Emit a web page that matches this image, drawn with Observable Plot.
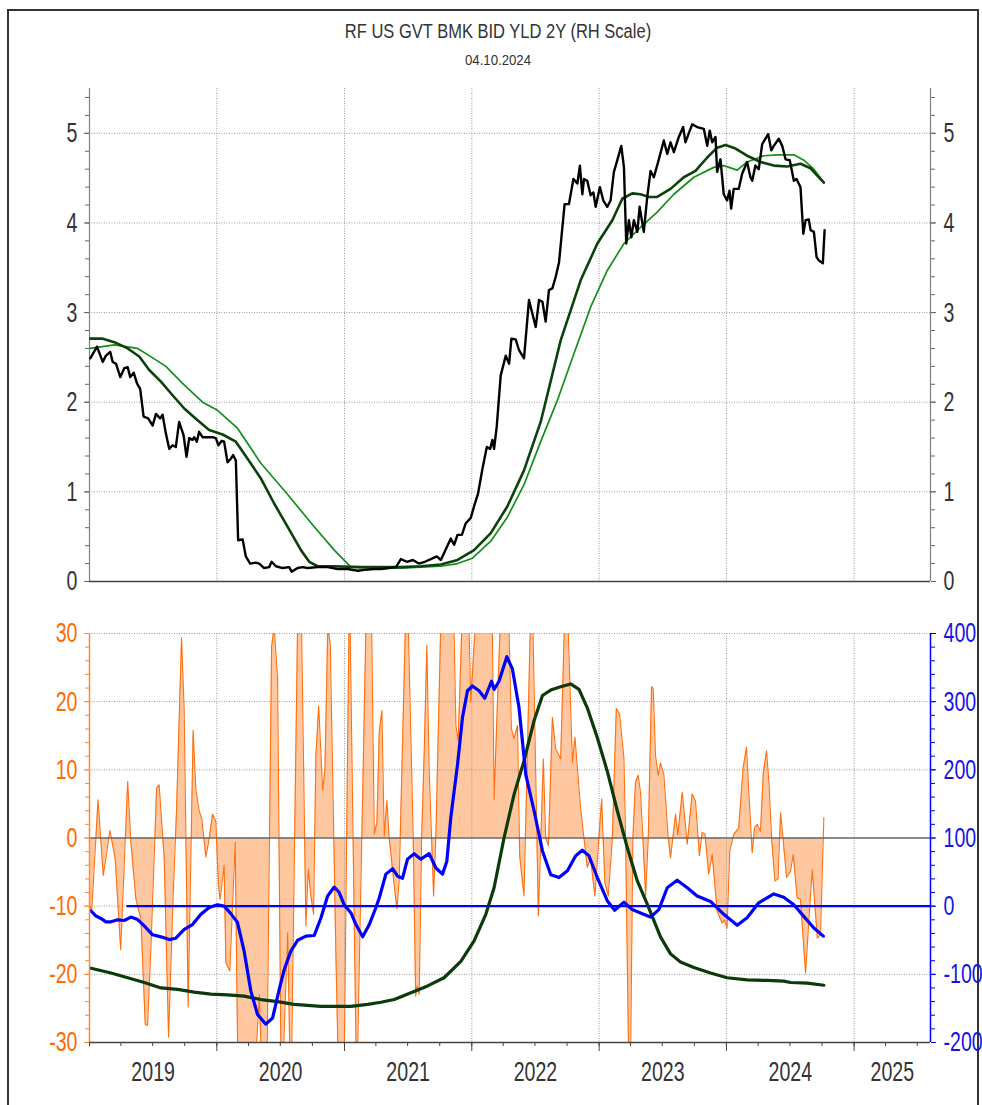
<!DOCTYPE html>
<html><head><meta charset="utf-8">
<script src="https://cdn.jsdelivr.net/npm/d3@7"></script>
<script src="https://cdn.jsdelivr.net/npm/@observablehq/plot@0.6"></script>
<style>
body{margin:0;background:#fff;width:982px;height:1105px;overflow:hidden;position:relative;font-family:"Liberation Sans",Arial,sans-serif;}
#border{position:absolute;left:7px;top:9px;width:972px;height:1110px;border-top:2px solid #333;border-left:2px solid #333;border-right:2px solid #333;box-sizing:border-box}
#title{position:absolute;left:498px;top:20px;transform:translateX(-50%) scaleX(0.825);font-size:20px;color:#333;white-space:nowrap}
#date{position:absolute;left:498px;top:51px;transform:translateX(-50%) scaleX(0.88);font-size:15px;color:#333;white-space:nowrap}
#top{position:absolute;left:0;top:80px}
#bot{position:absolute;left:0;top:620px}
svg{overflow:visible}
</style></head><body>
<div id="border"></div>
<div id="title"></div>
<div id="date"></div>
<div id="top"></div>
<div id="bot"></div>
<script>
const titleText = "RF US GVT BMK BID YLD 2Y (RH Scale)";
const dateText = "04.10.2024";
const yearLabels = ["2019","2020","2021","2022","2023","2024","2025"];
const topTicks = [0,1,2,3,4,5];
const leftTicks = [-30,-20,-10,0,10,20,30];
const rightTicks = [-200,-100,0,100,200,300,400];
const blueZero = 0;
const blueZeroStart = 2019.294;

// 2Y yield (decimal year, %)
const yield2y = [[2019.006,2.49],[2019.059,2.62],[2019.104,2.45],[2019.129,2.52],[2019.163,2.56],[2019.182,2.45],[2019.208,2.43],[2019.242,2.28],[2019.273,2.38],[2019.300,2.39],[2019.320,2.28],[2019.347,2.33],[2019.373,2.21],[2019.398,2.15],[2019.425,1.84],[2019.461,1.82],[2019.496,1.74],[2019.522,1.87],[2019.555,1.82],[2019.574,1.86],[2019.600,1.65],[2019.626,1.48],[2019.653,1.52],[2019.678,1.50],[2019.704,1.78],[2019.739,1.63],[2019.762,1.39],[2019.783,1.60],[2019.809,1.58],[2019.822,1.61],[2019.843,1.56],[2019.861,1.67],[2019.888,1.61],[2019.927,1.61],[2019.966,1.61],[2019.992,1.60],[2020.013,1.52],[2020.039,1.57],[2020.057,1.56],[2020.084,1.33],[2020.110,1.37],[2020.128,1.41],[2020.149,1.35],[2020.167,0.46],[2020.202,0.47],[2020.227,0.28],[2020.261,0.20],[2020.306,0.21],[2020.332,0.20],[2020.371,0.15],[2020.410,0.16],[2020.429,0.22],[2020.463,0.17],[2020.515,0.15],[2020.567,0.16],[2020.586,0.11],[2020.633,0.15],[2020.672,0.16],[2020.711,0.15],[2020.790,0.16],[2020.868,0.16],[2020.947,0.14],[2021.025,0.14],[2021.104,0.12],[2021.155,0.13],[2021.234,0.14],[2021.286,0.14],[2021.349,0.15],[2021.404,0.16],[2021.443,0.25],[2021.490,0.22],[2021.537,0.24],[2021.584,0.20],[2021.631,0.22],[2021.678,0.25],[2021.725,0.28],[2021.757,0.24],[2021.835,0.48],[2021.861,0.41],[2021.888,0.52],[2021.922,0.52],[2021.953,0.65],[2021.992,0.71],[2022.018,0.84],[2022.049,0.98],[2022.084,1.26],[2022.118,1.50],[2022.144,1.48],[2022.162,1.58],[2022.175,1.48],[2022.196,1.73],[2022.227,2.30],[2022.267,2.52],[2022.293,2.43],[2022.311,2.71],[2022.345,2.70],[2022.371,2.58],[2022.410,2.49],[2022.449,3.14],[2022.502,2.84],[2022.528,3.14],[2022.555,3.12],[2022.580,2.90],[2022.606,3.25],[2022.633,3.27],[2022.659,3.40],[2022.685,3.56],[2022.729,4.21],[2022.763,4.21],[2022.798,4.49],[2022.829,4.44],[2022.849,4.64],[2022.868,4.32],[2022.881,4.49],[2022.907,4.47],[2022.933,4.31],[2022.955,4.34],[2022.973,4.18],[2023.006,4.40],[2023.033,4.25],[2023.064,4.18],[2023.090,4.25],[2023.116,4.57],[2023.143,4.70],[2023.174,4.86],[2023.195,4.62],[2023.213,3.77],[2023.234,4.03],[2023.253,3.84],[2023.273,4.03],[2023.300,3.90],[2023.318,4.18],[2023.351,3.90],[2023.378,4.29],[2023.404,4.58],[2023.430,4.51],[2023.469,4.71],[2023.508,4.92],[2023.535,4.77],[2023.561,4.90],[2023.587,4.79],[2023.626,4.96],[2023.660,5.07],[2023.678,4.90],[2023.704,5.00],[2023.731,5.10],[2023.770,5.07],[2023.822,5.05],[2023.849,4.86],[2023.869,5.03],[2023.888,4.90],[2023.914,4.96],[2023.927,4.57],[2023.953,4.71],[2023.979,4.32],[2024.005,4.25],[2024.024,4.36],[2024.037,4.16],[2024.057,4.38],[2024.096,4.38],[2024.123,4.55],[2024.162,4.68],[2024.188,4.51],[2024.202,4.47],[2024.227,4.64],[2024.253,4.60],[2024.280,4.88],[2024.327,4.99],[2024.351,4.81],[2024.371,4.86],[2024.410,4.94],[2024.437,4.86],[2024.463,4.71],[2024.496,4.70],[2024.528,4.47],[2024.549,4.49],[2024.580,4.40],[2024.602,3.88],[2024.620,4.03],[2024.645,4.04],[2024.659,3.92],[2024.685,3.90],[2024.706,3.62],[2024.724,3.58],[2024.755,3.55],[2024.769,3.92]];

// shorter moving average (dark green)
const maShort = [[2019.006,2.71],[2019.098,2.71],[2019.195,2.67],[2019.300,2.60],[2019.391,2.51],[2019.469,2.36],[2019.561,2.23],[2019.639,2.10],[2019.744,1.93],[2019.849,1.80],[2019.940,1.69],[2020.045,1.64],[2020.149,1.56],[2020.241,1.37],[2020.345,1.15],[2020.449,0.87],[2020.555,0.61],[2020.659,0.35],[2020.724,0.22],[2020.790,0.17],[2020.920,0.17],[2021.129,0.16],[2021.286,0.16],[2021.443,0.16],[2021.600,0.17],[2021.757,0.19],[2021.888,0.24],[2022.018,0.35],[2022.149,0.54],[2022.280,0.84],[2022.410,1.24],[2022.541,1.78],[2022.698,2.69],[2022.855,3.36],[2022.986,3.77],[2023.104,4.03],[2023.182,4.27],[2023.260,4.33],[2023.325,4.32],[2023.391,4.29],[2023.456,4.29],[2023.561,4.38],[2023.665,4.51],[2023.757,4.58],[2023.849,4.73],[2023.927,4.84],[2023.992,4.87],[2024.071,4.83],[2024.162,4.75],[2024.267,4.68],[2024.371,4.64],[2024.476,4.63],[2024.580,4.66],[2024.659,4.61],[2024.763,4.45]];

// longer moving average (green)
const maLong = [[2019.006,2.60],[2019.195,2.64],[2019.378,2.60],[2019.469,2.52],[2019.600,2.40],[2019.731,2.21],[2019.888,2.00],[2020.005,1.91],[2020.162,1.71],[2020.345,1.32],[2020.555,0.97],[2020.763,0.61],[2020.920,0.35],[2021.051,0.16],[2021.234,0.15],[2021.443,0.15],[2021.600,0.16],[2021.757,0.17],[2021.888,0.20],[2022.005,0.26],[2022.149,0.45],[2022.280,0.72],[2022.410,1.08],[2022.541,1.56],[2022.672,2.02],[2022.802,2.54],[2022.933,3.06],[2023.064,3.47],[2023.195,3.77],[2023.325,3.95],[2023.456,4.12],[2023.587,4.32],[2023.744,4.51],[2023.900,4.62],[2023.979,4.64],[2024.084,4.59],[2024.162,4.68],[2024.293,4.75],[2024.398,4.76],[2024.528,4.76],[2024.606,4.70],[2024.685,4.60],[2024.763,4.45]];

// orange momentum (left scale)
const momentum = [[2019.006,-10],[2019.017,-10.9],[2019.067,5.6],[2019.108,-5.5],[2019.161,1.1],[2019.202,-3.1],[2019.245,-16.4],[2019.300,8.3],[2019.325,-0.6],[2019.365,-9.0],[2019.404,-11.9],[2019.438,-27.4],[2019.456,-27.5],[2019.482,-16.3],[2019.527,7.3],[2019.547,7.8],[2019.587,-3.1],[2019.621,-29.2],[2019.657,-8.5],[2019.684,4.3],[2019.723,29.4],[2019.744,18.5],[2019.775,-24.8],[2019.814,15.8],[2019.835,7.2],[2019.861,4.0],[2019.882,2.8],[2019.914,-2.8],[2019.940,-0.1],[2019.966,3.5],[2019.992,2.5],[2020.013,-7.0],[2020.026,-9.0],[2020.057,-4.0],[2020.071,-18.3],[2020.102,-19.5],[2020.144,-0.6],[2020.169,-40],[2020.227,-45],[2020.282,-40],[2020.333,-23],[2020.361,-40],[2020.392,-35],[2020.429,28],[2020.449,31],[2020.476,23.4],[2020.506,-40],[2020.555,-13.9],[2020.580,-40],[2020.639,40],[2020.663,32],[2020.698,-12.9],[2020.716,-4.6],[2020.737,-8.5],[2020.758,-11.2],[2020.776,12.1],[2020.798,19.4],[2020.829,7.0],[2020.847,10.1],[2020.869,31],[2020.889,28.3],[2020.933,-17.3],[2020.959,-40],[2020.994,-40],[2021.039,38],[2021.096,-38],[2021.178,40],[2021.210,36],[2021.234,0.6],[2021.255,2.3],[2021.273,15.5],[2021.294,18.7],[2021.312,0.3],[2021.333,5.5],[2021.351,0],[2021.391,-7.0],[2021.412,-10.4],[2021.430,-6.0],[2021.490,40],[2021.540,0],[2021.559,-23.2],[2021.569,-21.7],[2021.587,-22.9],[2021.606,0],[2021.627,13.1],[2021.647,28.3],[2021.665,10.1],[2021.684,0],[2021.700,-8.5],[2021.718,0.3],[2021.773,45],[2021.835,38],[2021.861,30],[2021.875,16.5],[2021.893,14.3],[2021.937,40],[2021.979,30],[2021.992,20],[2022.071,45],[2022.133,40],[2022.162,30],[2022.175,5.7],[2022.243,42],[2022.293,30],[2022.311,16],[2022.332,14.6],[2022.359,16.5],[2022.376,-2.6],[2022.410,-8.5],[2022.471,40],[2022.523,-11.4],[2022.562,11.6],[2022.580,0],[2022.602,-1.1],[2022.633,17.7],[2022.659,13.1],[2022.698,11.6],[2022.741,40],[2022.790,11.1],[2022.810,14.8],[2022.855,4.3],[2022.881,0],[2022.907,-4.3],[2022.933,-3.0],[2022.967,-8.5],[2022.998,0],[2023.020,5.7],[2023.045,-6.5],[2023.072,-8.5],[2023.104,0],[2023.135,19.0],[2023.161,18.2],[2023.195,11.6],[2023.208,0],[2023.231,-31],[2023.247,-33],[2023.265,0],[2023.286,8.2],[2023.307,9.2],[2023.325,6.7],[2023.344,0],[2023.365,-8.5],[2023.386,0],[2023.412,22.2],[2023.425,21.9],[2023.443,12.1],[2023.464,9.2],[2023.482,11.0],[2023.508,9.4],[2023.543,0],[2023.561,-2.9],[2023.600,3.5],[2023.618,0.5],[2023.653,6.7],[2023.692,-0.9],[2023.731,6.5],[2023.757,5.4],[2023.788,-2.6],[2023.809,0.8],[2023.831,0.6],[2023.861,-5.3],[2023.888,-2.4],[2023.927,-10.7],[2023.966,-12.5],[2023.984,-12.0],[2024.005,-13.2],[2024.026,-1.9],[2024.057,0.5],[2024.096,1.5],[2024.131,10.3],[2024.157,13.3],[2024.175,6.9],[2024.202,-2.2],[2024.220,1.5],[2024.241,2.0],[2024.267,1.0],[2024.288,9.4],[2024.314,12.8],[2024.332,8.4],[2024.355,-0.4],[2024.380,-6.3],[2024.404,-6.0],[2024.424,3.7],[2024.445,-0.4],[2024.471,-5.8],[2024.502,-4.9],[2024.523,-2.4],[2024.554,-8.8],[2024.580,-9.0],[2024.620,-19.8],[2024.645,-12.2],[2024.672,-4.6],[2024.712,-14.7],[2024.737,-14.2],[2024.763,3.0]];

// blue oscillator (right scale)
const oscillator = [[2019.012,-7],[2019.051,-14.5],[2019.090,-18],[2019.129,-23],[2019.169,-23],[2019.221,-20],[2019.273,-21],[2019.325,-16],[2019.378,-19.6],[2019.430,-29],[2019.496,-42],[2019.561,-45],[2019.626,-49],[2019.678,-47],[2019.744,-34],[2019.809,-27],[2019.875,-12],[2019.940,-2],[2020.005,2],[2020.057,0],[2020.110,-11],[2020.162,-24],[2020.214,-66],[2020.267,-125],[2020.319,-159],[2020.384,-173],[2020.437,-164],[2020.489,-122],[2020.528,-93],[2020.580,-66],[2020.633,-50],[2020.698,-44],[2020.763,-43],[2020.816,-17],[2020.868,15],[2020.920,28],[2020.959,20],[2020.998,2],[2021.051,-10],[2021.090,-27],[2021.143,-45],[2021.195,-27],[2021.247,-2],[2021.273,12],[2021.325,47],[2021.378,55],[2021.417,44],[2021.456,41],[2021.495,69],[2021.547,77],[2021.600,69],[2021.665,77],[2021.718,56],[2021.770,47],[2021.804,66],[2021.835,130],[2021.888,208],[2021.927,277],[2021.966,316],[2022.005,323],[2022.057,316],[2022.102,305],[2022.155,330],[2022.175,318],[2022.214,330],[2022.275,366],[2022.319,348],[2022.371,291],[2022.424,193],[2022.489,140],[2022.555,81],[2022.620,46],[2022.685,42],[2022.751,52],[2022.816,74],[2022.868,82],[2022.920,74],[2022.986,42],[2023.064,8],[2023.122,-6],[2023.195,6],[2023.260,-5],[2023.339,-11],[2023.404,-16],[2023.469,-5],[2023.535,27],[2023.613,38],[2023.692,27],[2023.770,15],[2023.875,7],[2023.979,-12],[2024.084,-28],[2024.162,-17],[2024.253,5],[2024.371,18],[2024.449,13],[2024.528,2],[2024.606,-15],[2024.685,-32],[2024.759,-44]];

// dark green trend (left scale)
const trend = [[2019.012,-19.1],[2019.169,-19.8],[2019.300,-20.5],[2019.430,-21.2],[2019.561,-22.0],[2019.692,-22.2],[2019.822,-22.6],[2019.953,-22.9],[2020.084,-23.0],[2020.214,-23.2],[2020.345,-23.7],[2020.476,-24.0],[2020.606,-24.4],[2020.816,-24.7],[2021.051,-24.7],[2021.182,-24.4],[2021.286,-24.1],[2021.391,-23.7],[2021.522,-22.7],[2021.653,-21.7],[2021.782,-20.5],[2021.914,-18.1],[2022.018,-15.1],[2022.110,-11.2],[2022.175,-7.3],[2022.253,0],[2022.332,6.4],[2022.410,11.3],[2022.489,17.2],[2022.555,20.9],[2022.620,21.7],[2022.698,22.2],[2022.776,22.6],[2022.842,21.8],[2022.907,19.1],[2022.986,14.7],[2023.064,9.8],[2023.143,4.0],[2023.221,-1.4],[2023.300,-6.3],[2023.378,-9.7],[2023.482,-14.5],[2023.561,-17.0],[2023.639,-18.2],[2023.744,-19.0],[2023.875,-19.8],[2024.005,-20.5],[2024.162,-20.8],[2024.319,-20.9],[2024.449,-21.0],[2024.502,-21.2],[2024.633,-21.3],[2024.763,-21.6]];

document.getElementById("title").textContent = titleText;
document.getElementById("date").textContent = dateText;

const FONT = '"Liberation Sans",Arial,sans-serif';
const toDate = t => { const y = Math.floor(t); const s = Date.UTC(y,0,1), e = Date.UTC(y+1,0,1); return new Date(s + (t-y)*(e-s)); };
const X = d => toDate(d[0]);
const V = d => d[1];
const xDomain = [toDate(2019.0), toDate(2025.6)];
const gridYears = d3.utcYear.range(toDate(2020), xDomain[1]);
const allYears = d3.utcYear.range(xDomain[0], xDomain[1]);
const quarters = d3.utcMonth.every(3).range(xDomain[0], xDomain[1]);
const labelPos = allYears.map(d => { const a = Math.max(+d, +xDomain[0]); const b = Math.min(+d3.utcYear.offset(d,1), +xDomain[1]); return new Date((a+b)/2); });
const rToL = r => (r - 100) / 10;
const lToR = l => l * 10 + 100;
const grid = {stroke:"#9a9a9a", strokeOpacity:1, strokeWidth:1, strokeDasharray:"1,1.5"};
const LABEL = 28;

function squeeze(svg, sx) {
  svg.querySelectorAll('g[aria-label$="tick label"] text').forEach(t => {
    t.setAttribute("transform", (t.getAttribute("transform") || "") + ` scale(${sx},1)`);
  });
}

const topPlot = Plot.plot({
  width: 982, height: 520, marginTop: 8, marginBottom: 19, marginLeft: 89, marginRight: 52,
  style: {fontFamily: FONT, background: "transparent", overflow: "visible"},
  x: {type: "utc", domain: xDomain, axis: null},
  y: {domain: [0, 5.5], axis: null},
  marks: [
    Plot.ruleY([1,2,3,4,5], grid),
    Plot.ruleX(gridYears, grid),
    Plot.ruleX([xDomain[0]], {stroke:"#808080", strokeWidth:1.2}),
    Plot.ruleX([xDomain[1]], {stroke:"#808080", strokeWidth:1.2}),
    Plot.ruleY([0], {stroke:"#444", strokeWidth:1.5}),
    Plot.axisY(d3.range(0, 28).map(i => i * 0.2), {anchor:"left", tickSize:4, tickFormat:() => "", stroke:"#666", label:null}),
    Plot.axisY(d3.range(0, 28).map(i => i * 0.2), {anchor:"right", tickSize:4, tickFormat:() => "", stroke:"#666", label:null}),
    Plot.axisY(topTicks, {anchor:"left", tickSize:5, tickPadding:7, fontSize:LABEL, fill:"#333", stroke:"#666", tickFormat: d => String(d), label:null}),
    Plot.axisY(topTicks, {anchor:"right", tickSize:5, tickPadding:8, fontSize:LABEL, fill:"#333", stroke:"#666", tickFormat: d => String(d), label:null}),
    Plot.line(maLong, {x:X, y:V, stroke:"#14901a", strokeWidth:1.7}),
    Plot.line(maShort, {x:X, y:V, stroke:"#0c400c", strokeWidth:2.6}),
    Plot.line(yield2y, {x:X, y:V, stroke:"#000", strokeWidth:2.4, strokeLinejoin:"round"})
  ]
});
squeeze(topPlot, 0.7);
document.getElementById("top").appendChild(topPlot);

const botPlot = Plot.plot({
  width: 982, height: 472, marginTop: 13, marginBottom: 50, marginLeft: 89, marginRight: 52,
  style: {fontFamily: FONT, background: "transparent", overflow: "visible"},
  x: {type: "utc", domain: xDomain, axis: null},
  y: {domain: [-30, 30], axis: null},
  marks: [
    Plot.areaY(momentum, {x:X, y1:0, y2:V, fill:"#ff7a1a", fillOpacity:0.42, clip:true}),
    Plot.ruleY([-20,-10,10,20,30], grid),
    Plot.ruleX(gridYears, grid),
    Plot.lineY(momentum, {x:X, y:V, stroke:"#ff6f0f", strokeWidth:1.1, clip:true}),
    Plot.ruleY([0], {stroke:"#666", strokeWidth:1.6}),
    Plot.ruleY([blueZero], {y: rToL, x1: () => toDate(blueZeroStart), x2: () => xDomain[1], stroke:"#0000ff", strokeWidth:2.2}),
    Plot.line(trend, {x:X, y:V, stroke:"#0b3a0b", strokeWidth:3.2}),
    Plot.line(oscillator, {x:X, y:d => rToL(d[1]), stroke:"#0000ff", strokeWidth:3.2, strokeLinejoin:"round"}),
    Plot.ruleX([xDomain[0]], {stroke:"#ff8a3d", strokeWidth:1.5}),
    Plot.ruleX([xDomain[1]], {stroke:"#0000ff", strokeWidth:1.5}),
    Plot.ruleY([-30], {stroke:"#444", strokeWidth:1.5}),
    Plot.axisY(d3.range(-15, 16).map(i => i * 2), {anchor:"left", tickSize:4, tickFormat:() => "", stroke:"#ff8a3d", label:null}),
    Plot.axisY(d3.range(-15, 16).map(i => i * 2), {anchor:"right", tickSize:4, tickFormat:() => "", stroke:"#0000ff", label:null}),
    Plot.axisY(leftTicks, {anchor:"left", tickSize:5, tickPadding:7, fontSize:LABEL, fill:"#ff6a00", stroke:"#ff8a3d", tickFormat: d => String(d), label:null}),
    Plot.axisY(rightTicks.map(rToL), {anchor:"right", tickSize:5, tickPadding:8, fontSize:LABEL, fill:"#1414e6", stroke:"#0000ff", tickFormat: l => String(Math.round(lToR(l))), label:null}),
    Plot.axisX(quarters, {anchor:"bottom", tickSize:4, tickFormat:() => "", stroke:"#444", label:null}),
    Plot.axisX(allYears.slice(1), {anchor:"bottom", tickSize:9, tickFormat:() => "", stroke:"#444", label:null}),
    Plot.axisX(labelPos, {anchor:"bottom", tickSize:0, tickPadding:19, fontSize:LABEL, fill:"#333", tickFormat: d => yearLabels[d.getUTCFullYear() - 2019], label:null})
  ]
});
squeeze(botPlot, 0.7);
document.getElementById("bot").appendChild(botPlot);
</script>
</body></html>
